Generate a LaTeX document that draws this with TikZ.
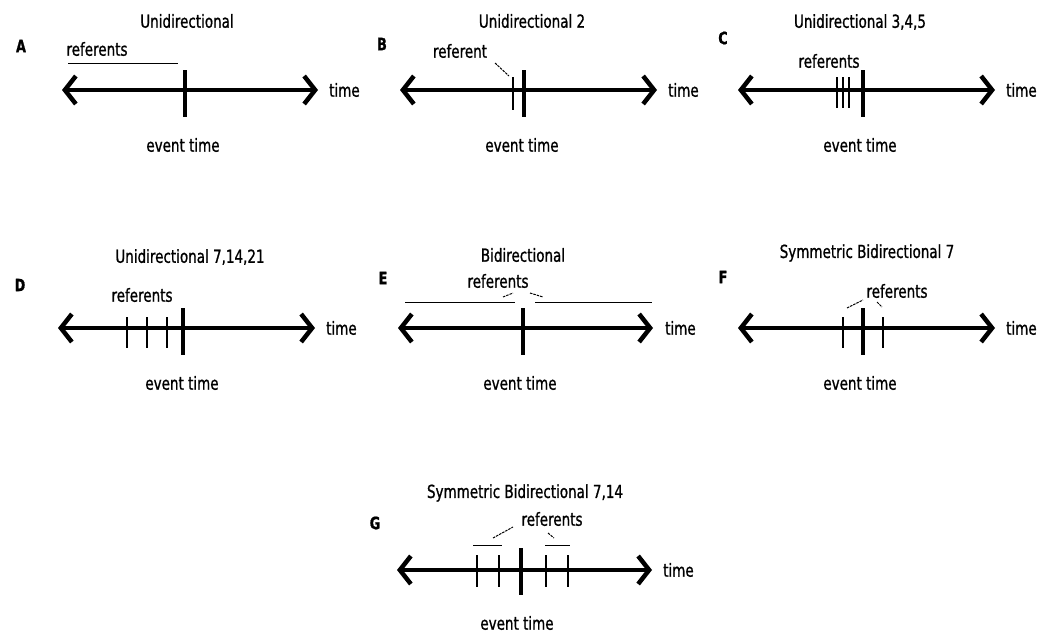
\documentclass[tikz,border=0pt]{standalone}
\usepackage{fontspec}
\setmainfont{DejaVu Sans}[FakeStretch=0.75,FakeBold=1]
\usetikzlibrary{arrows.meta}
\tikzset{
  axis/.style={line width=4.5pt,{Straight Barb[length=11pt,width=28pt]}-{Straight Barb[length=11pt,width=28pt]}},
  evt/.style={line width=4pt},
  reftick/.style={line width=1.3pt},
  refline/.style={line width=1pt},
  lead/.style={line width=1pt,dash pattern=on 2.5pt off 1pt},
  ttl/.style={inner sep=0pt,font=\fontsize{18}{20}\selectfont},
  lbl/.style={inner sep=0pt,font=\fontsize{18}{20}\selectfont},
  letter/.style={inner sep=0pt,font=\bfseries\fontsize{17}{19}\selectfont},
}
\begin{document}
\begin{tikzpicture}[x=1pt,y=-1pt]
\useasboundingbox[fill=white] (0,0) rectangle (1039,635);
% ---------- A ----------
\node[letter] (lA) at (21,46) {A};
\node[ttl] (tA) at (187,21) {Unidirectional};
\node[lbl] (rA) at (97,49) {referents};
\coordinate (aAl) at (62,90); \coordinate (aAr) at (318,90);
\draw[axis] (aAl) -- (aAr);
\node[lbl,anchor=west] (timeA) at (329,90) {time};
\draw[refline] (68,63) coordinate (rlA1) -- (178,63) coordinate (rlA2);
\draw[evt] (185,70) coordinate (eA1) -- (185,117) coordinate (eA2);
\node[lbl] (etA) at (183,145) {event time};
% ---------- B ----------
\node[letter] (lB) at (382,44) {B};
\node[ttl] (tB) at (532,21) {Unidirectional 2};
\node[lbl] (rB) at (460,51) {referent};
\draw[axis] (400,90) coordinate (aBl) -- (657,90) coordinate (aBr);
\node[lbl,anchor=west] (timeB) at (668,90) {time};
\draw[lead] (495,63) coordinate (ldB1) -- (509,76) coordinate (ldB2);
\draw[reftick] (513,77) coordinate (tkB1) -- (513,110) coordinate (tkB2);
\draw[evt] (524,70) coordinate (eB1) -- (524,117) coordinate (eB2);
\node[lbl] (etB) at (522,145) {event time};
% ---------- C ----------
\node[letter] (lC) at (723,38) {C};
\node[ttl] (tC) at (860,22) {Unidirectional 3,4,5};
\node[lbl] (rC) at (829,61) {referents};
\draw[axis] (738,90) coordinate (aCl) -- (995,90) coordinate (aCr);
\node[lbl,anchor=west] (timeC) at (1006,90) {time};
\foreach \xx in {837,843,849}{\draw[reftick] (\xx,77) -- (\xx,108);}
\draw[evt] (863,70) coordinate (eC1) -- (863,117) coordinate (eC2);
\node[lbl] (etC) at (860,145) {event time};
% ---------- D ----------
\node[letter] (lD) at (20,285) {D};
\node[ttl] (tD) at (190,257) {Unidirectional 7,14,21};
\node[lbl] (rD) at (142,295) {referents};
\draw[axis] (58,328) coordinate (aDl) -- (315,328) coordinate (aDr);
\node[lbl,anchor=west] (timeD) at (326,328) {time};
\foreach \xx in {127,147,167}{\draw[reftick] (\xx,317) -- (\xx,348);}
\draw[evt] (183,308) coordinate (eD1) -- (183,355) coordinate (eD2);
\node[lbl] (etD) at (182,383) {event time};
% ---------- E ----------
\node[letter] (lE) at (383,278) {E};
\node[ttl] (tE) at (523,255) {Bidirectional};
\node[lbl] (rE) at (498,281) {referents};
\draw[refline] (405,302) coordinate (rlE1) -- (515,302) coordinate (rlE2);
\draw[refline] (535,302) coordinate (rlE3) -- (652,302) coordinate (rlE4);
\draw[lead] (503,297) coordinate (ldE1) -- (513,293) coordinate (ldE2);
\draw[lead] (530,293) coordinate (ldE3) -- (543,297) coordinate (ldE4);
\draw[axis] (398,328) coordinate (aEl) -- (653,328) coordinate (aEr);
\node[lbl,anchor=west] (timeE) at (665,328) {time};
\draw[evt] (523,308) coordinate (eE1) -- (523,355) coordinate (eE2);
\node[lbl] (etE) at (520,383) {event time};
% ---------- F ----------
\node[letter] (lF) at (723,277) {F};
\node[ttl] (tF) at (867,253) {Symmetric Bidirectional 7};
\node[lbl] (rF) at (897,291) {referents};
\draw[lead] (847,308) coordinate (ldF1) -- (863,300) coordinate (ldF2);
\draw[lead] (877,302) coordinate (ldF3) -- (882,307) coordinate (ldF4);
\draw[axis] (738,328) coordinate (aFl) -- (995,328) coordinate (aFr);
\node[lbl,anchor=west] (timeF) at (1006,328) {time};
\foreach \xx in {843,883}{\draw[reftick] (\xx,317) -- (\xx,348);}
\draw[evt] (863,308) coordinate (eF1) -- (863,355) coordinate (eF2);
\node[lbl] (etF) at (860,383) {event time};
% ---------- G ----------
\node[letter] (lG) at (375,523) {G};
\node[ttl] (tG) at (525,493) {Symmetric Bidirectional 7,14};
\node[lbl] (rG) at (552,519) {referents};
\draw[lead] (493,538) coordinate (ldG1) -- (513,527) coordinate (ldG2);
\draw[lead] (548,533) coordinate (ldG3) -- (554,538) coordinate (ldG4);
\draw[refline] (473,545) coordinate (rlG1) -- (502,545) coordinate (rlG2);
\draw[refline] (545,545) coordinate (rlG3) -- (570,545) coordinate (rlG4);
\draw[axis] (397,570) coordinate (aGl) -- (652,570) coordinate (aGr);
\node[lbl,anchor=west] (timeG) at (663,570) {time};
\foreach \xx in {477,499,546,568}{\draw[reftick] (\xx,555) -- (\xx,587);}
\draw[evt] (521,548) coordinate (eG1) -- (521,595) coordinate (eG2);
\node[lbl] (etG) at (517,623) {event time};
\end{tikzpicture}
\end{document}
